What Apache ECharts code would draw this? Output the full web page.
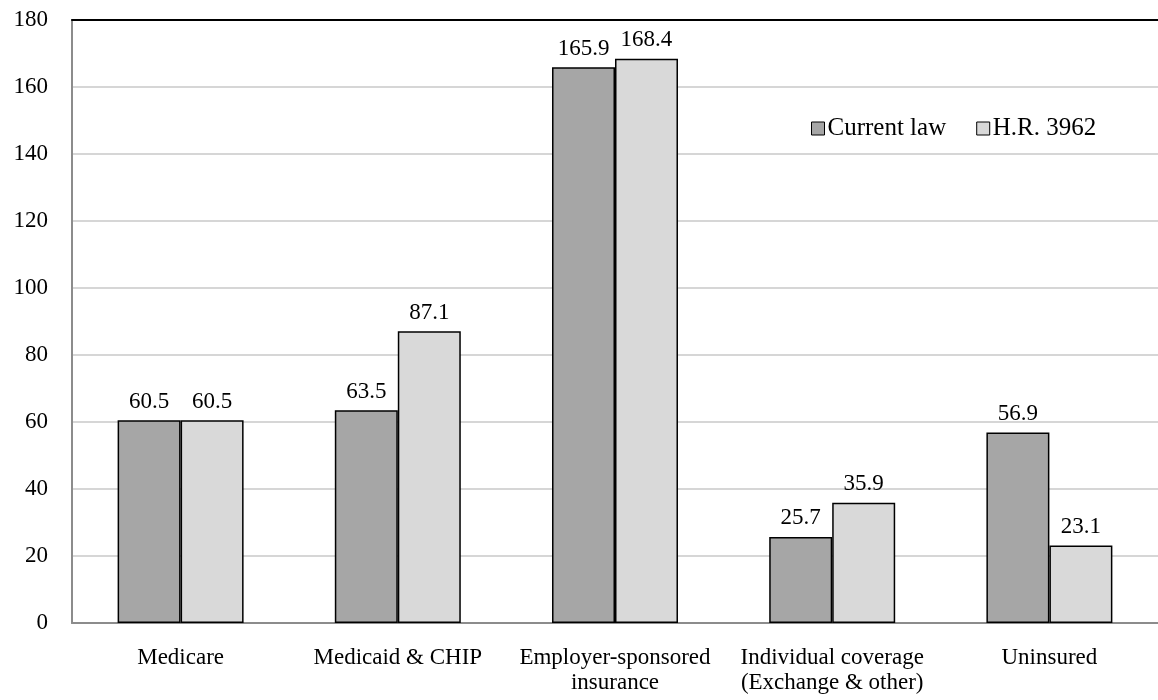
<!DOCTYPE html>
<html><head><meta charset="utf-8">
<script src="https://cdn.jsdelivr.net/npm/echarts@6/dist/echarts.min.js"></script>
<style>html,body{margin:0;padding:0;background:#fff}#c{width:1158px;height:700px}</style>
</head><body><div id="c"></div>
<script>
const categories = ['Medicare', 'Medicaid & CHIP', 'Employer-sponsored\ninsurance', 'Individual coverage\n(Exchange & other)', 'Uninsured'];
const currentLaw = [60.5, 63.5, 165.9, 25.7, 56.9];
const hr3962 = [60.5, 87.1, 168.4, 35.9, 23.1];
const seriesNames = ['Current law', 'H.R. 3962'];
const font = 'Liberation Serif';
const chart = echarts.init(document.getElementById('c'));
const lbl = {show: true, position: 'top', distance: 7, color: '#000', fontFamily: font, fontSize: 23, formatter: p => p.value.toFixed(1)};
chart.setOption({
  animation: false,
  textStyle: {fontFamily: font},
  legend: {
    data: seriesNames, left: 806, top: 111, itemWidth: 13, itemHeight: 13, itemGap: 30,
    icon: 'rect',
    itemStyle: {borderColor: '#000', borderWidth: 1},
    textStyle: {fontFamily: font, fontSize: 25, color: '#000', padding: [0,0,0,-2]}
  },
  grid: {left: 72, right: 0, top: 20, bottom: 77},
  xAxis: [{
    type: 'category', data: categories,
    axisLine: {lineStyle: {color: '#8c8c8c', width: 2}},
    axisTick: {show: false},
    axisLabel: {interval: 0, color: '#000', fontFamily: font, fontSize: 23, margin: 22, lineHeight: 25}
  }, {
    type: 'category', data: categories, position: 'top',
    axisLine: {lineStyle: {color: '#000', width: 2}},
    axisTick: {show: false}, axisLabel: {show: false}
  }],
  yAxis: {
    type: 'value', min: 0, max: 180, interval: 20,
    axisLine: {show: true, lineStyle: {color: '#8c8c8c', width: 2}},
    axisTick: {show: false},
    axisLabel: {color: '#000', fontFamily: font, fontSize: 23, margin: 24},
    splitLine: {lineStyle: {color: '#c8c8c8', width: 1.5}}
  },
  series: [{
    name: seriesNames[0], type: 'bar', data: currentLaw, barGap: '0%', barCategoryGap: '42%',
    itemStyle: {color: '#a6a6a6', borderColor: '#000', borderWidth: 1.5},
    label: lbl
  }, {
    name: seriesNames[1], type: 'bar', data: hr3962,
    itemStyle: {color: '#d9d9d9', borderColor: '#000', borderWidth: 1.5},
    label: lbl
  }]
});
</script></body></html>
